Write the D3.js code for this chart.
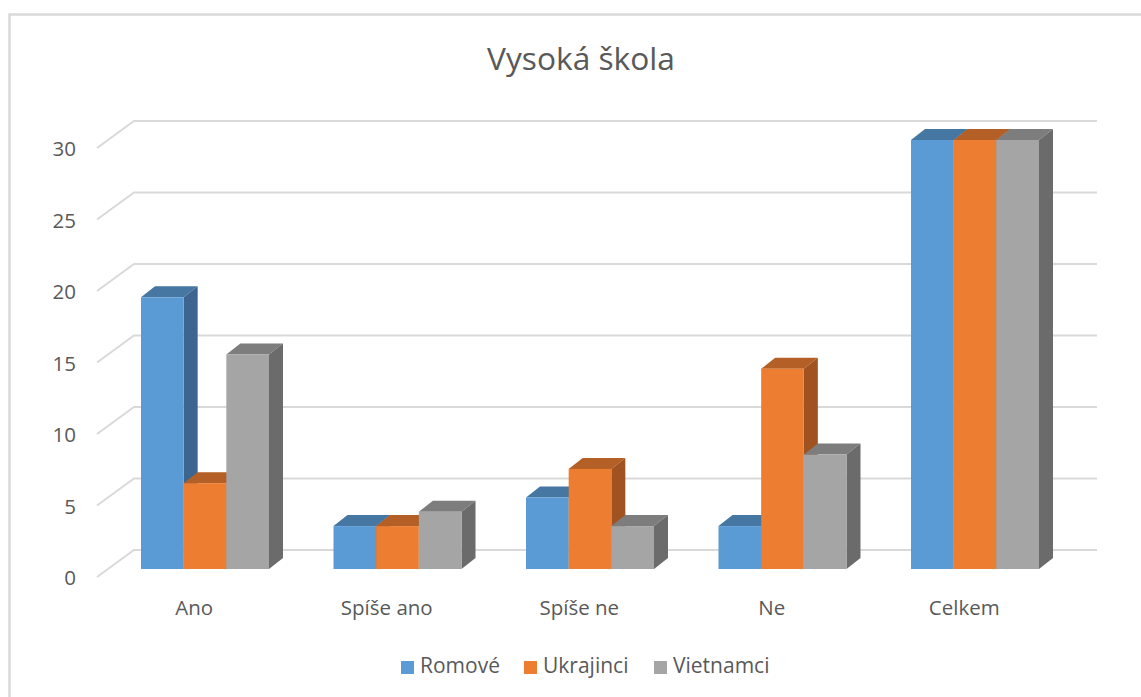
<!DOCTYPE html>
<html>
<head>
<meta charset="utf-8">
<script src="https://cdn.jsdelivr.net/npm/d3@7"></script>
<style>
    html, body { margin: 0; padding: 0; background: #fff; }
    svg { display: block; }
    text { font-family: "Open Sans", "Noto Sans", sans-serif; fill: #595959; }
</style>
</head>
<body>
<div id="chart"></div>
<script>
const categories = ["Ano", "Spíše ano", "Spíše ne", "Ne", "Celkem"];
const seriesNames = ["Romové", "Ukrajinci", "Vietnamci"];
const romove = [19, 3, 5, 3, 30];
const ukrajinci = [6, 3, 7, 14, 30];
const vietnamci = [15, 4, 3, 8, 30];
const yTicks = [0, 5, 10, 15, 20, 25, 30];

const seriesValues = [romove, ukrajinci, vietnamci];
const colors = ["#5b9bd5", "#ed7d31", "#a5a5a5"];
const topColors = ["#4676a2", "#b45f25", "#7d7d7d"];
const sideColors = ["#3c6690", "#a05220", "#6b6b6b"];

const width = 1141, height = 697;

const svg = d3.select("#chart").append("svg")
    .attr("width", width)
    .attr("height", height);

// Chart frame
svg.append("rect")
    .attr("x", 9.5).attr("y", 14.5)
    .attr("width", width + 20).attr("height", height + 20)
    .attr("fill", "#fff")
    .attr("stroke", "#d9d9d9")
    .attr("stroke-width", 2.5);

svg.append("text")
    .attr("x", 581).attr("y", 70)
    .attr("text-anchor", "middle")
    .attr("font-size", 31.7)
    .text("Vysoká škola");

// Scales: the front of the bars and the back wall have their own zero line
const yFront = d3.scaleLinear().domain([0, 30]).range([569, 140]);
const yWall = d3.scaleLinear().domain([0, 30]).range([577, 148]);
const x0 = d3.scaleBand().domain(categories).range([109, 1071.5]);
const x1 = d3.scaleBand().domain(seriesNames).range([32, 160]);

const wallDx = 37, wallDy = -27;
const barDx = 14, barDy = -11;

// Gridlines
svg.append("g")
    .selectAll("path")
    .data(yTicks)
    .join("path")
    .attr("fill", "none")
    .attr("stroke", "#d9d9d9")
    .attr("stroke-width", 2)
    .attr("d", (d) => {
        const p = d3.path();
        p.moveTo(97, yWall(d));
        p.lineTo(97 + wallDx, yWall(d) + wallDy);
        p.lineTo(1097, yWall(d) + wallDy);
        return p.toString();
    });

// Tick labels
svg.append("g")
    .selectAll("text")
    .data(yTicks)
    .join("text")
    .attr("x", 76)
    .attr("y", (d) => yWall(d) + 8)
    .attr("text-anchor", "end")
    .attr("font-size", 20.5)
    .text((d) => d);

// Bars, left to right so that each one covers the side of the previous one
const bars = [];
categories.forEach((c, i) => {
    seriesNames.forEach((s, j) => {
        bars.push({ category: c, series: s, j: j, value: seriesValues[j][i] });
    });
});

const bar = svg.append("g")
    .selectAll("g")
    .data(bars)
    .join("g")
    .attr("transform", (d) => `translate(${x0(d.category) + x1(d.series)},0)`);

bar.append("polygon")
    .attr("fill", (d) => topColors[d.j])
    .attr("points", (d) => {
        const w = x1.bandwidth(), t = yFront(d.value);
        return [[0, t], [barDx, t + barDy], [w + barDx, t + barDy], [w, t]].join(" ");
    });

bar.append("polygon")
    .attr("fill", (d) => sideColors[d.j])
    .attr("points", (d) => {
        const w = x1.bandwidth(), t = yFront(d.value), b = yFront(0);
        return [[w, t], [w + barDx, t + barDy], [w + barDx, b + barDy], [w, b]].join(" ");
    });

bar.append("rect")
    .attr("fill", (d) => colors[d.j])
    .attr("y", (d) => yFront(d.value))
    .attr("width", x1.bandwidth())
    .attr("height", (d) => yFront(0) - yFront(d.value));

// Category labels sit a little left of the bar groups
svg.append("g")
    .selectAll("text")
    .data(categories)
    .join("text")
    .attr("x", (d) => x0(d) + x0.bandwidth() / 2 - 11)
    .attr("y", 615)
    .attr("text-anchor", "middle")
    .attr("font-size", 20.5)
    .text((d) => d);

// Legend
const legendX = [401, 524, 654];
const legend = svg.append("g")
    .selectAll("g")
    .data(seriesNames)
    .join("g")
    .attr("transform", (d, i) => `translate(${legendX[i]},661)`);

legend.append("rect")
    .attr("width", 13).attr("height", 13)
    .attr("fill", (d, i) => colors[i]);

legend.append("text")
    .attr("x", 19).attr("y", 12)
    .attr("font-size", 21)
    .text((d) => d);
</script>
</body>
</html>
